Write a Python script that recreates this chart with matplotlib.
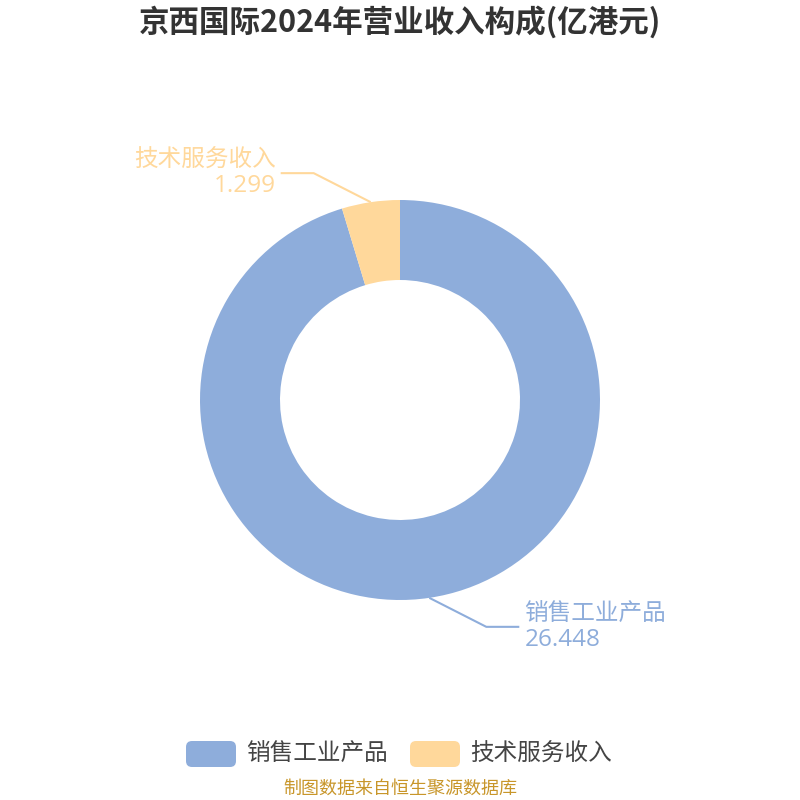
import matplotlib
matplotlib.use("Agg")
import matplotlib.pyplot as plt
import numpy as np
from matplotlib.patches import FancyBboxPatch

plt.rcParams['font.family'] = ['Noto Sans CJK SC', 'DejaVu Sans']

title = "京西国际2024年营业收入构成(亿港元)"
categories = ["销售工业产品", "技术服务收入"]
values = [26.448, 1.299]
colors = ["#8eaddb", "#ffd89b"]
source = "制图数据来自恒生聚源数据库"

fig = plt.figure(figsize=(8, 8), dpi=100)
ax = fig.add_axes([0, 0, 1, 1])

cx, cy, R, r_in = 400, 400, 200, 120
wedges, _ = ax.pie(values, colors=colors, startangle=90, counterclock=False,
                   radius=R, center=(cx, cy), frame=True,
                   wedgeprops=dict(width=R - r_in, linewidth=0))
ax.set_xlim(0, 800)
ax.set_ylim(0, 800)
ax.set_aspect('equal')
ax.axis('off')

for w, cat, val, col in zip(wedges, categories, values, colors):
    ang = np.deg2rad((w.theta1 + w.theta2) / 2)
    x0 = cx + R * np.cos(ang)
    y0 = cy + R * np.sin(ang)
    sx = 1 if np.cos(ang) >= 0 else -1
    sy = 1 if np.sin(ang) >= 0 else -1
    x1 = x0 + sx * 57
    y1 = y0 + sy * 29
    x2 = x1 + sx * 33
    ax.plot([x0, x1, x2], [y0, y1, y1], color=col, lw=1.5, solid_capstyle='butt')
    ha = 'left' if sx > 0 else 'right'
    tx = x2 + sx * 5
    ax.text(tx, y1 + 1, cat, ha=ha, va='bottom', fontsize=17, color=col)
    ax.text(tx, y1 - 1, f"{val:.3f}", ha=ha, va='top', fontsize=17.5, color=col,
            family=['Open Sans', 'DejaVu Sans'])

fig.text(0.5, 1 - 22 / 800, title, ha='center', va='center', fontsize=22,
         fontweight='bold', color='#333333')

# legend
leg_y = 800 - 754
items = [(186, categories[0], colors[0]), (410, categories[1], colors[1])]
for x, lab, col in items:
    box = FancyBboxPatch((x, leg_y - 13), 50, 26, boxstyle="round,pad=0,rounding_size=6",
                         fc=col, ec='none')
    ax.add_patch(box)
    ax.text(x + 60, leg_y, lab, ha='left', va='center', fontsize=17, color='#444444')

fig.text(0.5, 1 - 789 / 800, source, ha='center', va='center', fontsize=13,
         color='#c8962a')

fig.savefig("out.png", dpi=100)
